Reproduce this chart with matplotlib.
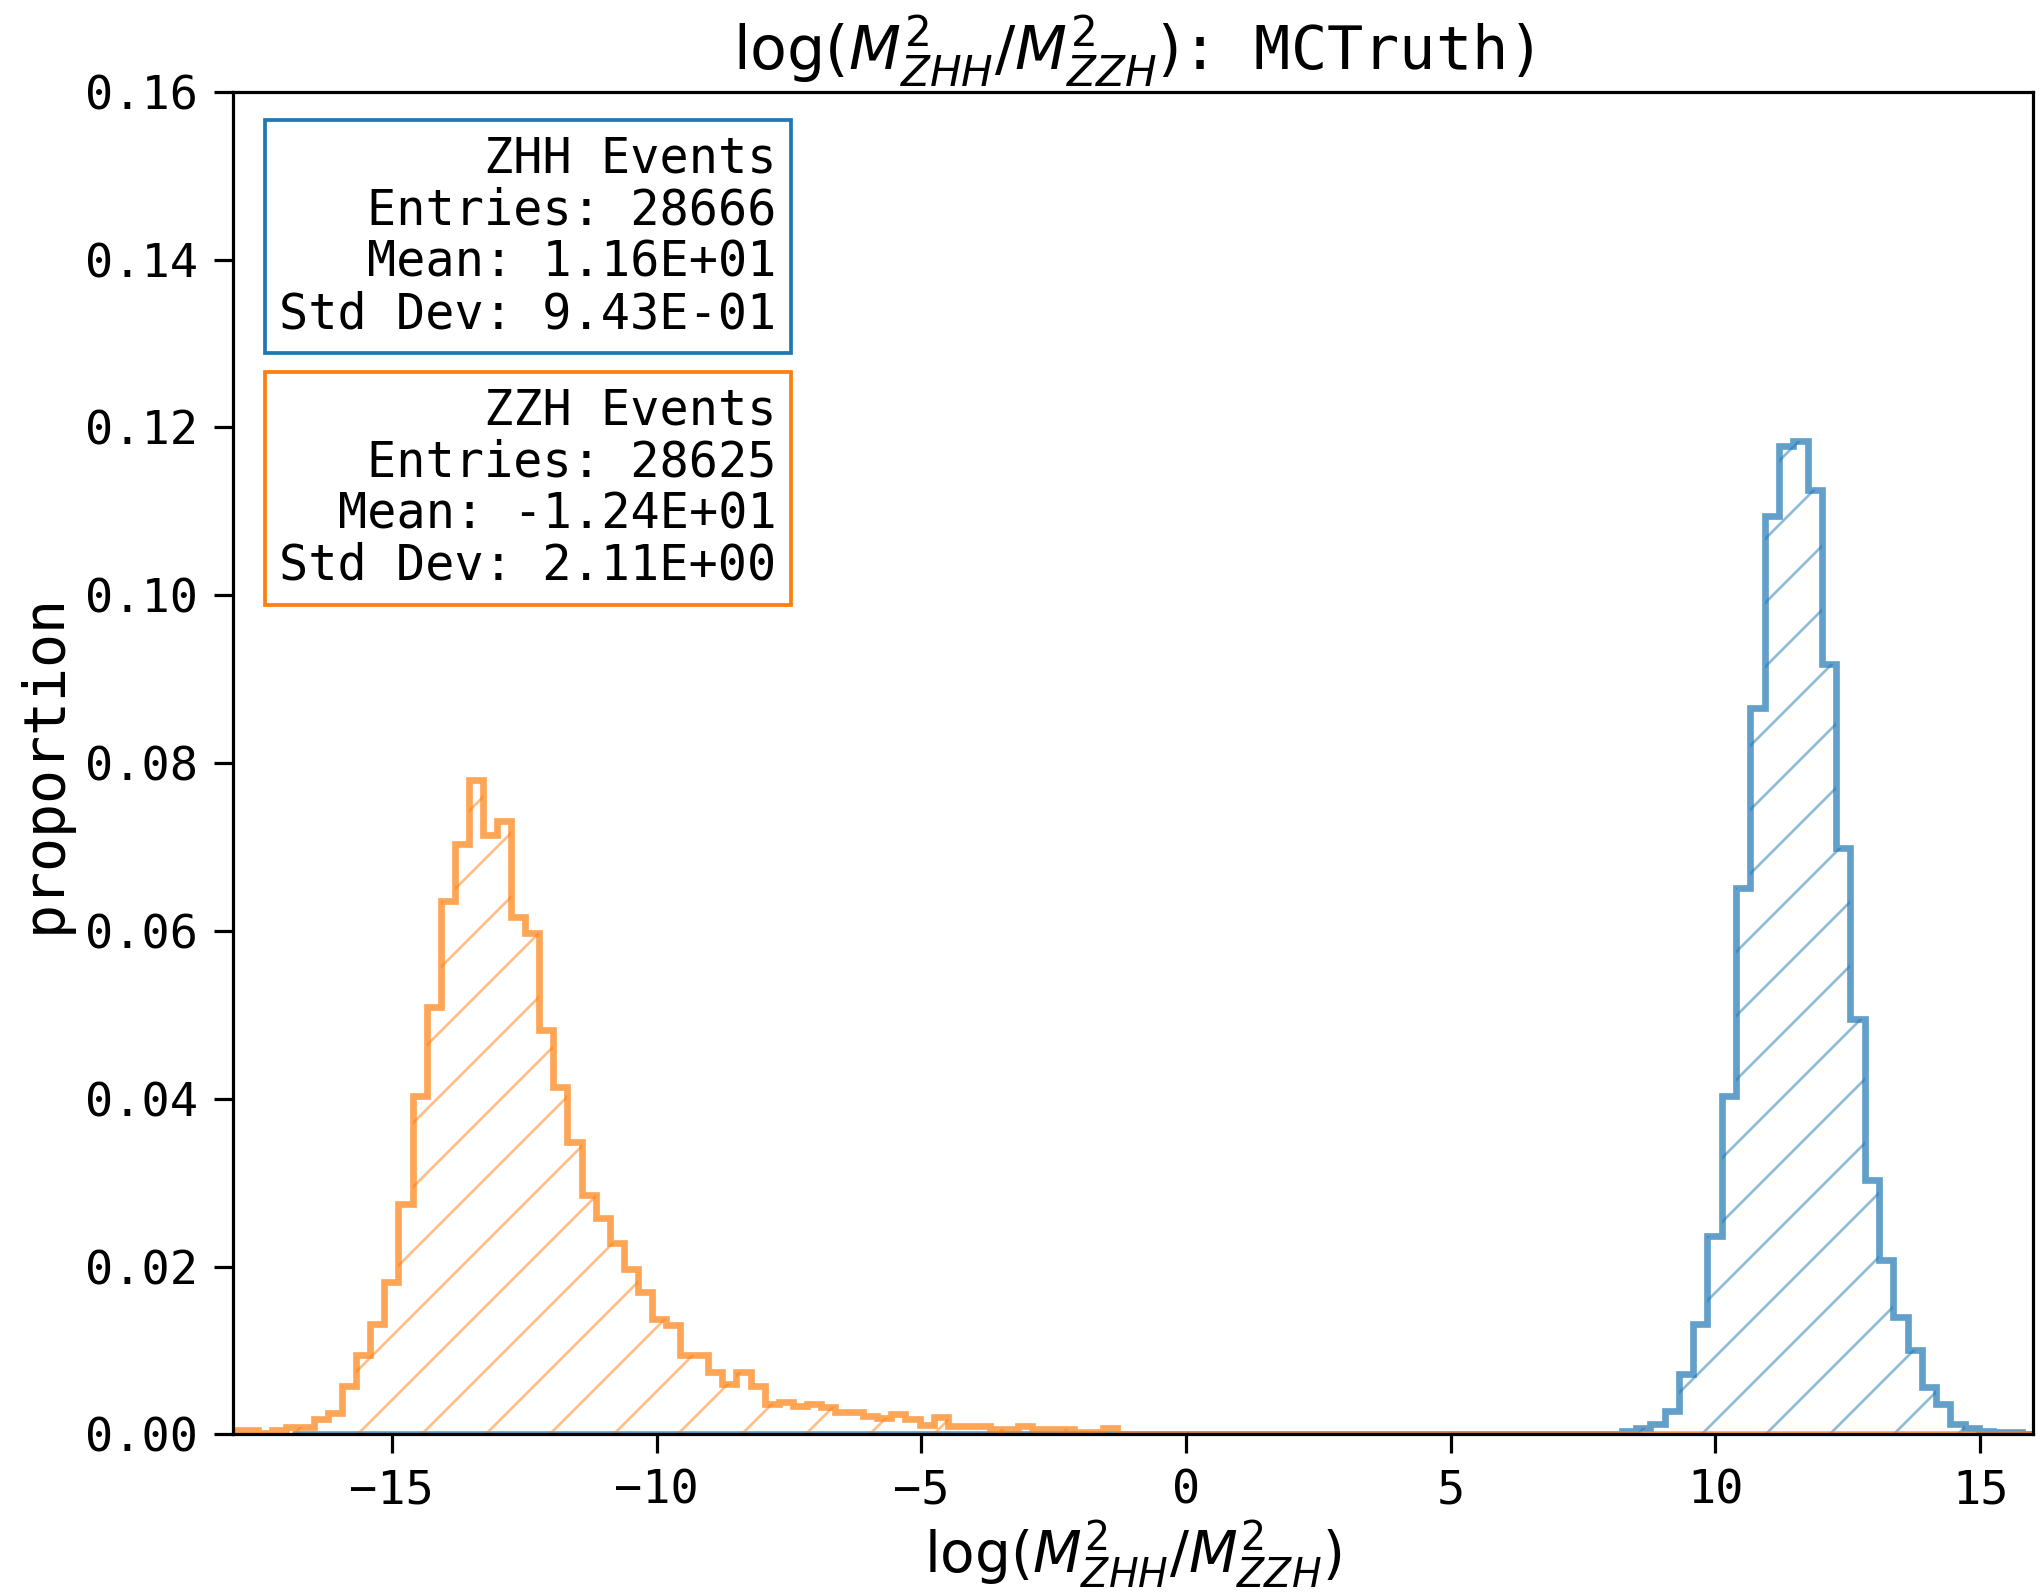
import numpy as np
import matplotlib
matplotlib.use("Agg")
import matplotlib.pyplot as plt

# --- data: proportion of events per bin ---
# ZHH (blue): bin layout and the non-empty bins starting at zhh_first
zhh_lo, zhh_width, zhh_nbins = -16.88, 0.27, 125
zhh_first = 93
zhh_vals = [0.0004, 0.0008, 0.0012, 0.0028, 0.0072, 0.0132, 0.0236, 0.0403,
            0.0651, 0.0866, 0.1094, 0.1178, 0.1184, 0.1126, 0.0918, 0.0699,
            0.0495, 0.0303, 0.0208, 0.0140, 0.0100, 0.0056, 0.0036, 0.0012,
            0.0008, 0.0004, 0.0003, 0.0003]

# ZZH (orange)
zzh_lo, zzh_width, zzh_nbins = -18.066, 0.266, 129
zzh_first = 0
zzh_vals = [0.0005, 0.0005, 0.0002, 0.0005, 0.0009, 0.0009, 0.0018, 0.0026,
            0.0058, 0.0095, 0.0132, 0.0181, 0.0274, 0.0403, 0.0509, 0.0635,
            0.0704, 0.0780, 0.0714, 0.0731, 0.0616, 0.0597, 0.0482, 0.0414,
            0.0348, 0.0285, 0.0258, 0.0228, 0.0197, 0.0170, 0.0137, 0.0130,
            0.0095, 0.0095, 0.0074, 0.0060, 0.0074, 0.0057, 0.0036, 0.0039,
            0.0034, 0.0036, 0.0033, 0.0027, 0.0027, 0.0022, 0.0020, 0.0024,
            0.0018, 0.0011, 0.0021, 0.0010, 0.0010, 0.0010, 0.0006, 0.0006,
            0.0010, 0.0006, 0.0006, 0.0006, 0.0003, 0.0003, 0.0008]

zhh_stats = ["ZHH Events", "Entries: 28666", "Mean: 1.16E+01", "Std Dev: 9.43E-01"]
zzh_stats = ["ZZH Events", "Entries: 28625", "Mean: -1.24E+01", "Std Dev: 2.11E+00"]

BLUE = "#1f77b4"
ORANGE = "#ff7f0e"


def make_bins(lo, width, nbins, first, vals):
    edges = lo + width * np.arange(nbins + 1)
    props = np.zeros(nbins)
    props[first:first + len(vals)] = vals
    return edges, props


plt.rcParams['font.family'] = 'monospace'
plt.rcParams['hatch.linewidth'] = 0.5
plt.rcParams['axes.linewidth'] = 0.6

DPI = 384
fig = plt.figure(figsize=(2040 / DPI, 1596 / DPI), dpi=DPI)
ax = fig.add_axes([0.1142, 0.1013, 0.8824, 0.8412])

for (lo, w, n, first, vals), color in [((zhh_lo, zhh_width, zhh_nbins, zhh_first, zhh_vals), BLUE),
                                       ((zzh_lo, zzh_width, zzh_nbins, zzh_first, zzh_vals), ORANGE)]:
    edges, props = make_bins(lo, w, n, first, vals)
    # hatched body (lighter) and outline
    ax.hist(edges[:-1], bins=edges, weights=props, histtype='step',
            hatch='//', color=color, alpha=0.5, linewidth=0)
    ax.hist(edges[:-1], bins=edges, weights=props, histtype='step',
            color=color, alpha=0.7, linewidth=1.25)

ax.set_xlim(-18, 16)
ax.set_ylim(0, 0.16)
ax.tick_params(labelsize=8.8, width=0.6, pad=3.0)

ax.set_title(r'$\log(M^2_{ZHH}/M^2_{ZZH})$: MCTruth)', fontsize=11.3, pad=4)
ax.set_xlabel(r'$\log(M^2_{ZHH}/M^2_{ZZH})$', fontsize=10.6, labelpad=1)
ax.set_ylabel('proportion', fontsize=10.6, labelpad=2.5)

# stats boxes
for lines, color, ytop in [(zhh_stats, BLUE, 0.9680), (zzh_stats, ORANGE, 0.7804)]:
    ax.text(0.3019, ytop, "\n".join(lines), transform=ax.transAxes,
            ha='right', va='top', multialignment='right', fontsize=9.1,
            linespacing=1.1,
            bbox=dict(boxstyle='square,pad=0.3', facecolor='white',
                      edgecolor=color, linewidth=0.7))

fig.savefig("out.png", dpi=DPI)
